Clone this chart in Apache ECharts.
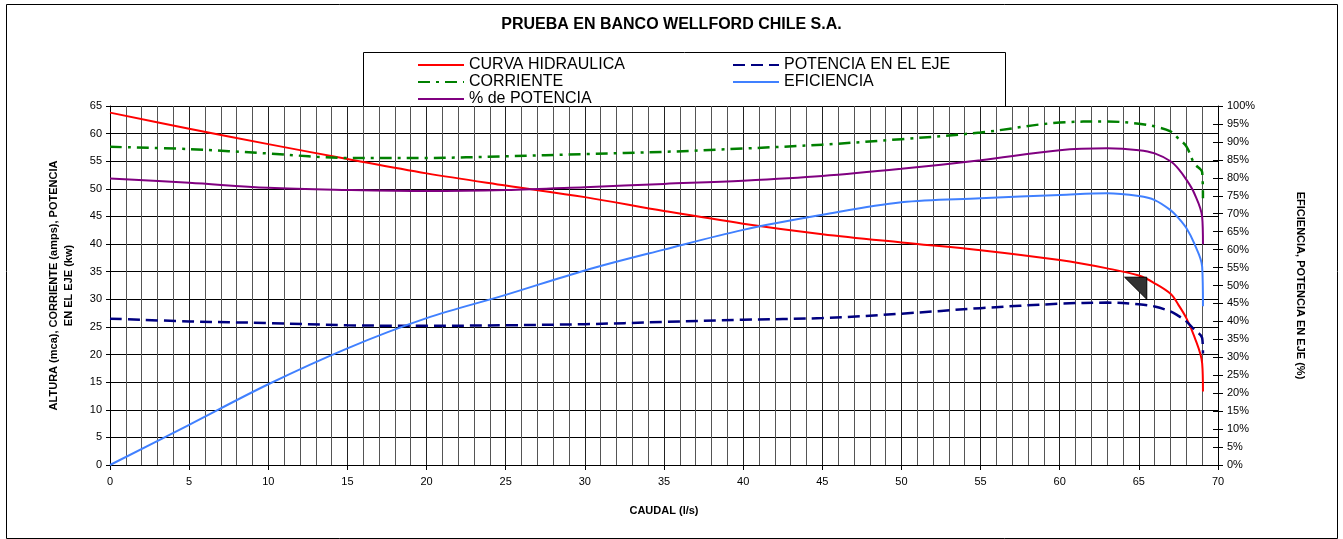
<!DOCTYPE html>
<html>
<head>
<meta charset="utf-8">
<script src="https://cdn.jsdelivr.net/npm/echarts@6/dist/echarts.min.js"></script>
<style>
html,body{margin:0;padding:0;background:#fff;}
#chart{width:1343px;height:539px;}
</style>
</head>
<body>
<div id="chart"></div>
<script>
// Caudal (l/s)
const caudal = [0,5,10,15,20,25,30,35,40,45,50,55,60,63,65,66,67,67.5,68,68.5,69,69.05];
// Left axis series
const curvaHidraulica = [63.8,60.9,58.1,55.4,52.8,50.6,48.5,46.0,43.7,41.8,40.3,38.9,37.1,35.6,34.3,32.9,31.0,29.0,26.6,23.3,18.4,13.3];
const corriente =       [57.6,57.2,56.4,55.6,55.6,55.9,56.3,56.7,57.3,58.0,59.0,60.2,62.0,62.2,61.8,61.3,60.4,59.1,57.7,54.6,53.0,48.3];
const potenciaEje =     [26.5,26.0,25.7,25.3,25.2,25.3,25.5,25.9,26.3,26.6,27.4,28.4,29.2,29.4,29.1,28.7,27.8,27.0,26.0,24.5,23.0,20.2];
// Right axis series (%)
const eficiencia =      [0,11.2,22.5,32.5,40.9,47.4,54.2,60.0,65.5,69.7,73.2,74.3,75.2,75.7,74.9,73.8,71.0,68.8,66.0,61.7,55.2,44.2];
const pctPotencia =     [79.8,78.6,77.2,76.6,76.3,76.6,77.4,78.3,79.2,80.5,82.5,84.9,87.7,88.2,87.7,86.8,84.6,82.5,79.5,75.7,69.1,61.5];
// Annotation triangle (data coords)
const triX = [64.1,65.5,65.5];
const triY = [34.0,34.0,30.0];

const names = ['CURVA HIDRAULICA','CORRIENTE','% de POTENCIA','POTENCIA EN EL EJE','EFICIENCIA'];
const pair = (ys) => caudal.map((x,i)=>[x,ys[i]]);

const FONT = 'Liberation Sans, Arial, sans-serif';
const chart = echarts.init(document.getElementById('chart'), null, {renderer:'canvas'});

const lineBase = {type:'line', symbol:'none', showSymbol:false, smooth:0.35, z:3};
const legendBase = {orient:'vertical', top:57, padding:0, itemWidth:46, itemHeight:12, itemGap:1,
  itemStyle:{opacity:0},
  textStyle:{fontFamily:FONT, fontSize:16, color:'#000'}};

chart.setOption({
  backgroundColor:'#fff',
  animation:false,
  textStyle:{fontFamily:FONT, color:'#000'},
  title:{
    text:'PRUEBA EN BANCO WELLFORD CHILE S.A.',
    left:'center', top:12,
    textStyle:{fontFamily:FONT, fontSize:16, fontWeight:'bold', color:'#000'}
  },
  graphic:[
    {type:'rect', left:4, top:2, shape:{width:1331, height:534}, style:{fill:null, stroke:'#000', lineWidth:1}, z:0, silent:true},
    {type:'rect', left:363, top:52, shape:{width:642, height:54}, style:{fill:'#fff', stroke:'#000', lineWidth:1}, z:0, silent:true}
  ],
  legend:[
    Object.assign({}, legendBase, {data:['CURVA HIDRAULICA','CORRIENTE','% de POTENCIA'], left:417}),
    Object.assign({}, legendBase, {data:['POTENCIA EN EL EJE','EFICIENCIA'], left:732})
  ],
  grid:{left:110, right:125, top:106, bottom:74, containLabel:false},
  xAxis:{
    type:'value', min:0, max:70, interval:5,
    name:'CAUDAL (l/s)', nameLocation:'middle', nameGap:40,
    nameTextStyle:{fontFamily:FONT, fontSize:11, fontWeight:'bold', color:'#000'},
    axisLine:{lineStyle:{color:'#000', width:1}},
    axisTick:{show:true, length:5, lineStyle:{color:'#000'}},
    axisLabel:{fontFamily:FONT, fontSize:11, color:'#000', margin:11},
    splitLine:{show:true, lineStyle:{color:'#222', width:1}},
    minorTick:{show:false, splitNumber:5},
    minorSplitLine:{show:true, lineStyle:{color:'#555', width:1}}
  },
  yAxis:[
    {type:'value', min:0, max:65, interval:5, position:'left',
     name:'ALTURA (mca), CORRIENTE (amps), POTENCIA\nEN EL EJE (kw)', nameLocation:'middle', nameGap:34, nameRotate:90,
     nameTextStyle:{fontFamily:FONT, fontSize:11, fontWeight:'bold', color:'#000', lineHeight:15},
     axisLine:{show:true, lineStyle:{color:'#000'}},
     axisTick:{show:true, length:4, lineStyle:{color:'#000'}},
     axisLabel:{fontFamily:FONT, fontSize:11, color:'#000', margin:8},
     splitLine:{show:true, lineStyle:{color:'#000', width:1}}},
    {type:'value', min:0, max:100, interval:5, position:'right',
     name:'EFICIENCIA, POTENCIA EN EJE (%)', nameLocation:'middle', nameGap:77, nameRotate:-90,
     nameTextStyle:{fontFamily:FONT, fontSize:11, fontWeight:'bold', color:'#000'},
     axisLine:{show:true, lineStyle:{color:'#000'}},
     axisTick:{show:true, length:5, lineStyle:{color:'#000'}},
     axisLabel:{fontFamily:FONT, fontSize:11, color:'#000', margin:9, formatter:'{value}%'},
     splitLine:{show:false}},
    {type:'value', min:0, max:100, interval:5, position:'right',
     axisLine:{show:false}, axisLabel:{show:false},
     axisTick:{show:true, inside:true, length:5, lineStyle:{color:'#000'}},
     splitLine:{show:false}}
  ],
  series:[
    Object.assign({}, lineBase, {name:names[0], yAxisIndex:0, data:pair(curvaHidraulica),
      itemStyle:{color:'#FF0000'}, lineStyle:{color:'#FF0000', width:2}}),
    Object.assign({}, lineBase, {name:names[1], yAxisIndex:0, data:pair(corriente),
      itemStyle:{color:'#008000'}, lineStyle:{color:'#008000', width:2.5, type:[12,6,3,6]}}),
    Object.assign({}, lineBase, {name:names[2], yAxisIndex:1, data:pair(pctPotencia),
      itemStyle:{color:'#800080'}, lineStyle:{color:'#800080', width:2}}),
    Object.assign({}, lineBase, {name:names[3], yAxisIndex:0, data:pair(potenciaEje),
      itemStyle:{color:'#000080'}, lineStyle:{color:'#000080', width:2.5, type:[12,6]}}),
    Object.assign({}, lineBase, {name:names[4], yAxisIndex:1, data:pair(eficiencia),
      itemStyle:{color:'#4080FF'}, lineStyle:{color:'#4080FF', width:2}}),
    {type:'custom', yAxisIndex:0, z:4, silent:true,
     data:[[triX[0],triY[0],triX[1],triY[1],triX[2],triY[2]]],
     renderItem:function(params, api){
       const p0 = api.coord([api.value(0), api.value(1)]);
       const p1 = api.coord([api.value(2), api.value(3)]);
       const p2 = api.coord([api.value(4), api.value(5)]);
       return {type:'polygon', shape:{points:[p0,p1,p2]}, style:{fill:'#333', stroke:'#000', lineWidth:1}};
     }}
  ]
});
</script>
</body>
</html>
